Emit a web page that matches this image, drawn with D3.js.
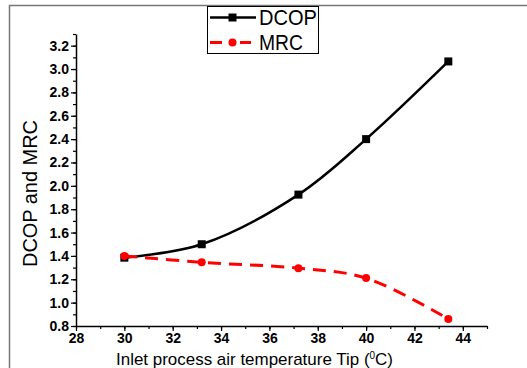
<!DOCTYPE html>
<html>
<head>
<meta charset="utf-8">
<script src="https://cdn.jsdelivr.net/npm/d3@7"></script>
<style>
  body { margin: 0; background: #fff; }
  svg { display: block; font-family: "Liberation Sans", Arial, sans-serif; }
</style>
</head>
<body>
<div id="chart"></div>
<script>
// data
const temps = [30, 33.2, 37.2, 40, 43.4];
const dcop = [1.385, 1.50, 1.925, 2.40, 3.065];
const mrc = [1.40, 1.345, 1.295, 1.21, 0.86];
const xTicks = [28, 30, 32, 34, 36, 38, 40, 42, 44];
const yTicks = [0.8, 1.0, 1.2, 1.4, 1.6, 1.8, 2.0, 2.2, 2.4, 2.6, 2.8, 3.0, 3.2];
const seriesNames = ["DCOP", "MRC"];

const width = 527, height = 368;
const margin = { left: 76, top: 34, right: 40, bottom: 42 };

const svg = d3.select('#chart')
    .append('svg')
    .attr('width', width)
    .attr('height', height);

// outer frame (top and left edges only visible)
svg.append('path')
    .attr('d', 'M9.5,368V5.5H527')
    .attr('fill', 'none')
    .attr('stroke', '#777')
    .attr('stroke-width', 1.5);

let x = d3.scaleLinear()
    .domain([28, 45])
    .range([margin.left, width - margin.right]);

let y = d3.scaleLinear()
    .domain([0.8, 3.3])
    .range([height - margin.bottom, margin.top]);

// minor ticks
const xMinor = d3.range(28, 46, 1);
const yMinor = d3.range(8, 34, 1).map(d => d / 10);

let xAxis = svg.append('g')
    .attr('transform', 'translate(0,' + y(0.8) + ')');
xAxis.call(d3.axisBottom(x).tickValues(xMinor).tickSize(3).tickFormat('').tickSizeOuter(0))
    .select('.domain').remove();
xAxis.append('g')
    .call(d3.axisBottom(x).tickValues(xTicks).tickSize(5).tickSizeOuter(0).tickPadding(2).tickFormat(d3.format('d')));

let yAxis = svg.append('g')
    .attr('transform', 'translate(' + x(28) + ',0)');
yAxis.call(d3.axisLeft(y).tickValues(yMinor).tickSize(3).tickFormat('').tickSizeOuter(0))
    .select('.domain').remove();
yAxis.append('g')
    .call(d3.axisLeft(y).tickValues(yTicks).tickSize(5).tickSizeOuter(0).tickPadding(2).tickFormat(d3.format('.1f')));

svg.selectAll('.tick line').attr('stroke', '#000').attr('stroke-width', 1.2);
svg.selectAll('.domain').attr('stroke', '#000').attr('stroke-width', 1.5);
svg.selectAll('.tick text')
    .attr('font-size', 14)
    .attr('font-weight', 'bold')
    .attr('fill', '#000')
    .attr('font-family', '"Liberation Sans", Arial, sans-serif');

// axis titles
svg.append('text')
    .attr('transform', 'translate(37,' + 193.5 + ') rotate(-90)')
    .attr('text-anchor', 'middle')
    .attr('font-size', 21)
    .attr('textLength', 147)
    .attr('lengthAdjust', 'spacingAndGlyphs')
    .text('DCOP and MRC');

let xLabel = svg.append('text')
    .attr('x', 116)
    .attr('y', 365)
    .attr('font-size', 17)
    .attr('textLength', 277)
    .attr('lengthAdjust', 'spacingAndGlyphs');
xLabel.append('tspan').text('Inlet process air temperature Tip (');
xLabel.append('tspan').attr('font-size', 10).attr('dy', -6).text('0');
xLabel.append('tspan').attr('dy', 6).text('C)');

// lines
let line = (vals) => d3.line()
    .x((d, i) => x(temps[i]))
    .y(d => y(d))
    .curve(d3.curveCatmullRom.alpha(0.5))(vals);

svg.append('path')
    .attr('d', line(dcop))
    .attr('fill', 'none')
    .attr('stroke', '#000')
    .attr('stroke-width', 2.5);

svg.append('g')
    .selectAll('rect')
    .data(dcop)
    .enter()
    .append('rect')
    .attr('x', (d, i) => x(temps[i]) - 4)
    .attr('y', d => y(d) - 4)
    .attr('width', 8)
    .attr('height', 8)
    .attr('fill', '#000');

svg.append('path')
    .attr('d', line(mrc))
    .attr('fill', 'none')
    .attr('stroke', '#f00')
    .attr('stroke-width', 3)
    .attr('stroke-dasharray', '13,8');

svg.append('g')
    .selectAll('circle')
    .data(mrc)
    .enter()
    .append('circle')
    .attr('cx', (d, i) => x(temps[i]))
    .attr('cy', d => y(d))
    .attr('r', 4)
    .attr('fill', '#f00');

// legend
let legend = svg.append('g');
legend.append('rect')
    .attr('x', 207.5)
    .attr('y', 6.5)
    .attr('width', 111)
    .attr('height', 47)
    .attr('fill', '#fff')
    .attr('stroke', '#000')
    .attr('stroke-width', 1);

legend.append('line')
    .attr('x1', 210).attr('x2', 256)
    .attr('y1', 17.5).attr('y2', 17.5)
    .attr('stroke', '#000').attr('stroke-width', 2.5);
legend.append('rect')
    .attr('x', 228.5).attr('y', 13.5)
    .attr('width', 8).attr('height', 8)
    .attr('fill', '#000');

legend.append('line')
    .attr('x1', 210).attr('x2', 251)
    .attr('y1', 42.5).attr('y2', 42.5)
    .attr('stroke', '#f00').attr('stroke-width', 3)
    .attr('stroke-dasharray', '12,18');
legend.append('circle')
    .attr('cx', 232.5).attr('cy', 42.5).attr('r', 4)
    .attr('fill', '#f00');

legend.selectAll('text.lbl')
    .data(seriesNames)
    .enter()
    .append('text')
    .attr('class', 'lbl')
    .attr('x', 259)
    .attr('y', (d, i) => 25 + i * 24.5)
    .attr('font-size', 22)
    .attr('textLength', (d, i) => i === 0 ? 58 : 44)
    .attr('lengthAdjust', 'spacingAndGlyphs')
    .text(d => d);
</script>
</body>
</html>
